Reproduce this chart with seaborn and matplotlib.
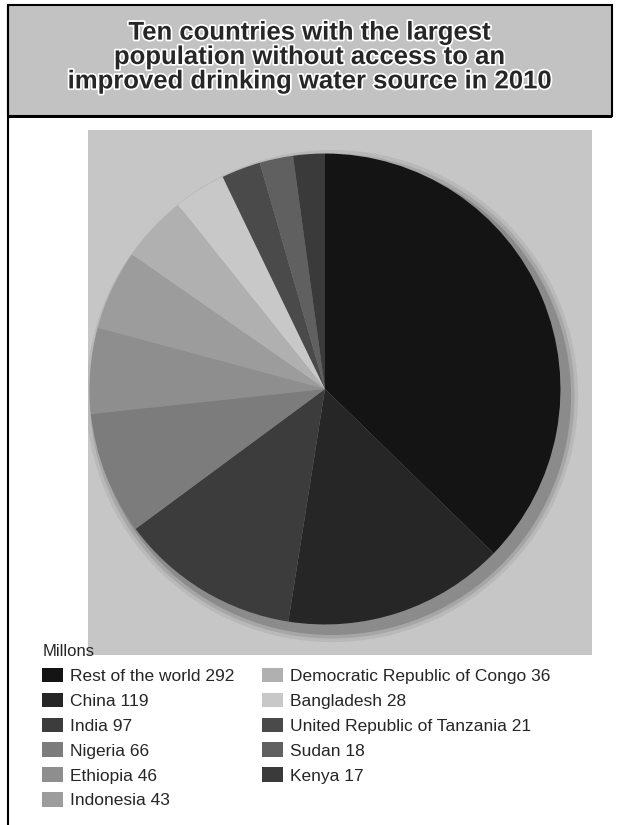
import matplotlib
matplotlib.use('Agg')
import matplotlib.pyplot as plt
import matplotlib.patheffects as pe
from matplotlib.patches import Rectangle, Circle
import seaborn as sns

# data (millions of people)
countries = ['Rest of the world', 'China', 'India', 'Nigeria', 'Ethiopia', 'Indonesia',
             'Democratic Republic of Congo', 'Bangladesh', 'United Republic of Tanzania',
             'Sudan', 'Kenya']
millions = [292, 119, 97, 66, 46, 43, 36, 28, 21, 18, 17]
grays = ['#141414', '#262626', '#3c3c3c', '#7c7c7c', '#8e8e8e', '#9c9c9c',
         '#b0b0b0', '#c8c8c8', '#4a4a4a', '#606060', '#3a3a3a']

title = 'Ten countries with the largest\npopulation without access to an\nimproved drinking water source in 2010'

sns.set_style('white')
plt.rcParams['font.family'] = ['Liberation Sans', 'DejaVu Sans']

W, H = 619, 825
fig = plt.figure(figsize=(W / 100, H / 100), dpi=100)
fig.patch.set_facecolor('white')


def px(x, y, w, h):
    """pixel box (top-left origin) to figure fraction"""
    return [x / W, 1 - (y + h) / H, w / W, h / H]


# frame: title box + left rule
fig.add_artist(Rectangle((8 / W, 1 - 116 / H), 604 / W, 111 / H, transform=fig.transFigure,
                         facecolor='#c2c2c2', edgecolor='black', lw=1.5, zorder=-2))
fig.add_artist(Rectangle((8 / W, 1 - 118 / H), 604 / W, 3 / H, transform=fig.transFigure,
                         facecolor='black', edgecolor='none', zorder=-2))
fig.add_artist(plt.Line2D([8 / W, 8 / W], [0, 1 - 5 / H], transform=fig.transFigure,
                          color='black', lw=1.5, zorder=-2))

fig.text(310 / W, 1 - 57 / H, title, ha='center', va='center', fontsize=18.5,
         fontweight='bold', linespacing=1.02,
         path_effects=[pe.withStroke(linewidth=2.5, foreground='white')])

# gray stippled panel behind the pie
panel = Rectangle((88 / W, 1 - 655 / H), 504 / W, 525 / H, transform=fig.transFigure,
                  facecolor='#c6c6c6', edgecolor='none', zorder=-2)
fig.add_artist(panel)

ax = fig.add_axes(px(66, 130, 518, 518))
# soft shadow round the pie, like the scan's blurred edge
for r, a in [(1.045, 0.08), (1.03, 0.12), (1.015, 0.2)]:
    shadow = Circle((0.03, -0.03), r, facecolor='#222222', edgecolor='none', alpha=a)
    ax.add_patch(shadow)
    shadow.set_clip_path(panel)
wedges, _ = ax.pie(millions, colors=grays, startangle=90, counterclock=False,
                   wedgeprops=dict(linewidth=0))
ax.set_aspect('equal')
ax.set_xlim(-1.1, 1.1)
ax.set_ylim(-1.1, 1.1)
ax.axis('off')

labels = [f'{c} {v}' for c, v in zip(countries, millions)]
leg = fig.legend(wedges, labels, ncol=2, loc='upper left',
                 bbox_to_anchor=(30 / W, 1 - 632 / H), frameon=False,
                 title='Millons', alignment='left', fontsize=12.5, title_fontsize=12,
                 handlelength=1.2, handleheight=0.9, handletextpad=0.4,
                 labelspacing=0.5, columnspacing=1.6, borderpad=0.2)

plt.savefig('out.png', dpi=100)
